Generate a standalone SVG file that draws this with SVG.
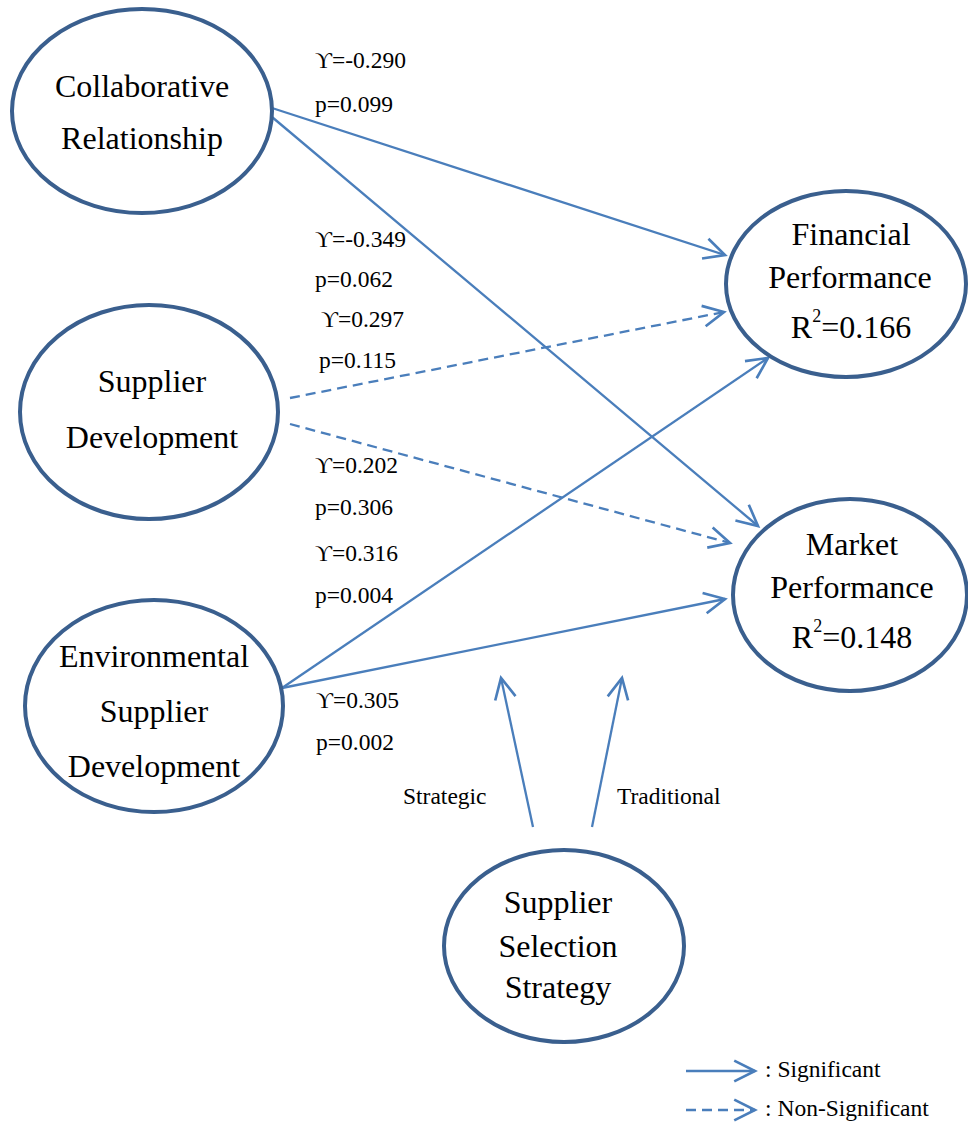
<svg xmlns="http://www.w3.org/2000/svg" width="968" height="1124" viewBox="0 0 968 1124">
<style>
.node{fill:#ffffff;stroke:#3a5f8e;stroke-width:4}
.nt{font-family:"Liberation Serif","Times New Roman",serif;font-size:32px;fill:#000;text-anchor:middle}
.lb{font-family:"Liberation Serif","DejaVu Serif","Times New Roman",serif;font-size:23.5px;fill:#000}
.sm{font-family:"Liberation Serif","Times New Roman",serif;font-size:23.5px;fill:#000}
.c{fill:none;stroke:#4a7ebb;stroke-width:2.3}
.d{stroke-dasharray:10 6}
</style>
<defs>
<marker id="ah" markerUnits="userSpaceOnUse" markerWidth="30" markerHeight="30" viewBox="-22 -12 26 24" refX="0" refY="0" orient="auto" overflow="visible">
<path d="M-18,-9 L0,0 L-18,9" fill="none" stroke="#4a7ebb" stroke-width="2.3" stroke-dasharray="none"/>
</marker>
</defs>
<rect width="968" height="1124" fill="#ffffff"/>
<g id="connectors">
<line class="c" x1="272" y1="108" x2="725" y2="255" marker-end="url(#ah)"/>
<line class="c" x1="272" y1="117" x2="758" y2="526" marker-end="url(#ah)"/>
<line class="c d" x1="290" y1="398" x2="724" y2="312" marker-end="url(#ah)"/>
<line class="c d" x1="290" y1="424" x2="730" y2="543" marker-end="url(#ah)"/>
<line class="c" x1="282" y1="688" x2="768" y2="358" marker-end="url(#ah)"/>
<line class="c" x1="282" y1="688" x2="725" y2="599" marker-end="url(#ah)"/>
<line class="c" x1="533" y1="827" x2="501" y2="678" marker-end="url(#ah)"/>
<line class="c" x1="592" y1="827" x2="622" y2="678" marker-end="url(#ah)"/>
</g>
<g id="labels">
<text class="lb" x="315" y="68">ϒ=-0.290</text>
<text class="lb" x="315" y="112">p=0.099</text>
<text class="lb" x="315" y="247">ϒ=-0.349</text>
<text class="lb" x="315" y="287">p=0.062</text>
<text class="lb" x="321" y="327">ϒ=0.297</text>
<text class="lb" x="319" y="368">p=0.115</text>
<text class="lb" x="315" y="473">ϒ=0.202</text>
<text class="lb" x="315" y="515">p=0.306</text>
<text class="lb" x="315" y="561">ϒ=0.316</text>
<text class="lb" x="315" y="603">p=0.004</text>
<text class="lb" x="316" y="708">ϒ=0.305</text>
<text class="lb" x="316" y="750">p=0.002</text>
<text class="sm" x="403" y="804">Strategic</text>
<text class="sm" x="617" y="804">Traditional</text>
</g>
<g id="n-collab">
<ellipse class="node" cx="142" cy="111" rx="130" ry="102"/>
<text class="nt" x="142" y="97">Collaborative</text>
<text class="nt" x="142" y="149">Relationship</text>
</g>
<g id="n-supdev">
<ellipse class="node" cx="149" cy="412" rx="129" ry="107"/>
<text class="nt" x="152" y="392">Supplier</text>
<text class="nt" x="152" y="448">Development</text>
</g>
<g id="n-envdev">
<ellipse class="node" cx="154" cy="706" rx="129" ry="106"/>
<text class="nt" x="154" y="667">Environmental</text>
<text class="nt" x="154" y="722">Supplier</text>
<text class="nt" x="154" y="777">Development</text>
</g>
<g id="n-financial">
<ellipse class="node" cx="846" cy="284" rx="120" ry="93"/>
<text class="nt" x="851" y="245">Financial</text>
<text class="nt" x="850" y="288">Performance</text>
<text class="nt" x="851" y="338">R<tspan dy="-16" font-size="18">2</tspan><tspan dy="16">=0.166</tspan></text>
</g>
<g id="n-market">
<ellipse class="node" cx="850" cy="595" rx="117" ry="96"/>
<text class="nt" x="852" y="555">Market</text>
<text class="nt" x="852" y="598">Performance</text>
<text class="nt" x="852" y="648">R<tspan dy="-16" font-size="18">2</tspan><tspan dy="16">=0.148</tspan></text>
</g>
<g id="n-selection">
<ellipse class="node" cx="564" cy="946" rx="120" ry="96"/>
<text class="nt" x="558" y="913">Supplier</text>
<text class="nt" x="558" y="957">Selection</text>
<text class="nt" x="558" y="998">Strategy</text>
</g>
<g id="legend">
<line class="c" x1="686" y1="1071" x2="755" y2="1071" marker-end="url(#ah)"/>
<line class="c d" x1="686" y1="1110" x2="755" y2="1110" marker-end="url(#ah)"/>
<text class="sm" x="765" y="1077">: Significant</text>
<text class="sm" x="765" y="1116">: Non-Significant</text>
</g>
</svg>
